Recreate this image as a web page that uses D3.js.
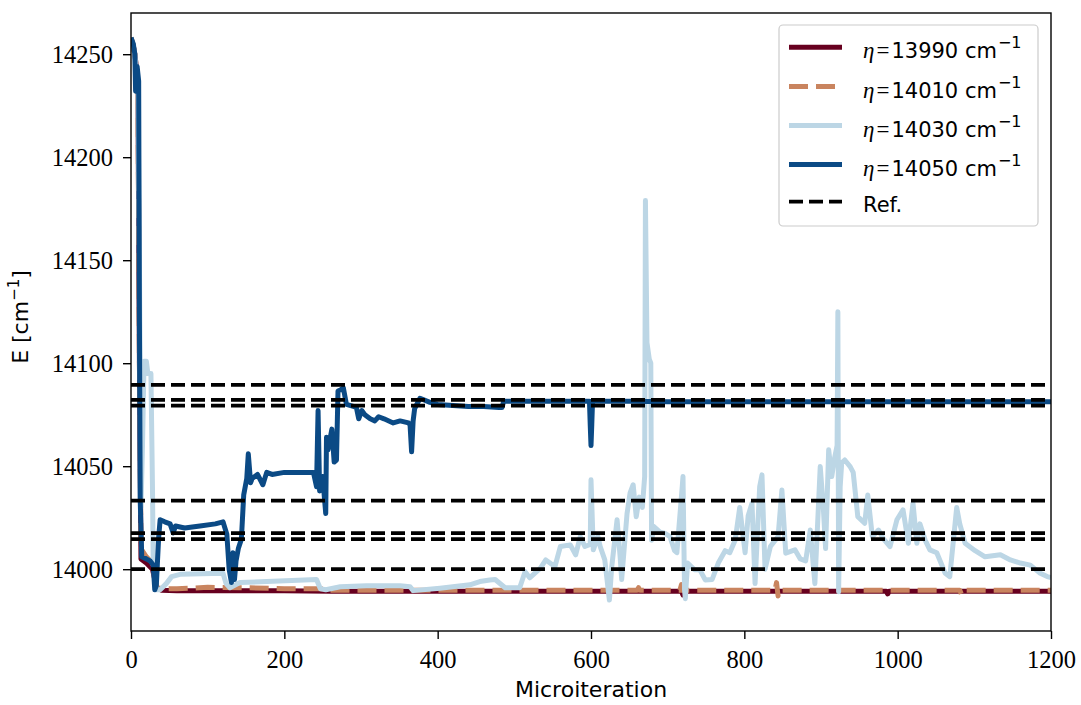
<!DOCTYPE html>
<html><head><meta charset="utf-8">
<script src="https://cdn.jsdelivr.net/npm/d3@7"></script>
<style>
body{margin:0;background:#fff;}
svg{display:block;}
.serif{font-family:"Liberation Serif","DejaVu Serif","Times New Roman",serif;}
.sans{font-family:"DejaVu Sans",sans-serif;}
</style></head>
<body>
<svg id="chart" width="1081" height="705"></svg>
<script>
// ---- data ----
const xTicks = [0, 200, 400, 600, 800, 1000, 1200];
const yTicks = [14000, 14050, 14100, 14150, 14200, 14250];
const seriesNames = ["13990", "14010", "14030", "14050"];
const seriesColors = ["#67001f", "#c9845f", "#bcd6e5", "#0b4a85"];
const refLevels = [14000, 14014.6, 14017.5, 14033.3, 14079.4, 14082.2, 14089.5];

const s13990_x = [0,3,5,7,9,11,13,20,28,31,34,40,60,100,150,200,260,300,400,500,600,700,718,720,722,800,900,985,987,989,1100,1200];
const s13990_y = [14258,14254,14250,14244,14236,14100,14005,14003,14000,13995,13991,13989.8,13989.5,13989.5,13989.5,13989.5,13989.3,13989.3,13989.3,13989.3,13989.3,13989.3,13989.3,13987.5,13989.3,13989.3,13989.3,13989.3,13988,13989.3,13989.3,13989.3];

const s14010_x = [0,3,5,7,9,11,13,20,28,31,34,40,60,100,150,200,250,258,300,400,500,600,660,662,664,700,716,718,720,800,840,842,844,846,900,1000,1081,1083,1085,1200];
const s14010_y = [14258,14254,14250,14244,14236,14100,14010,14006,14003,13995,13991,13990.5,13990.5,13991.2,13991,13990.5,13990.5,13989.8,13989.8,13989.8,13989.8,13989.8,13989.8,13991,13989.8,13989.8,13989.8,13992.5,13989.8,13989.8,13989.8,13993.5,13987,13989.8,13989.8,13989.8,13989.8,13988,13989.8,13989.8];

const s14030_x = [0,5,9,11,13,15,17,20,22,26,28,29,31,33,38,46,53,64,120,124,129,142,177,242,247,254,273,307,351,364,368,403,442,455,468,475,488,507,514,520,534,541,553,560,573,580,586,592,599,600,603,609,612,618,624,627,634,638,640,647,651,655,659,663,667,670,671,673,676,678,679,682,690,696,703,709,712,719,720,722,723,726,735,742,749,758,766,775,781,788,794,801,805,810,814,820,823,827,834,844,849,854,866,873,880,886,892,899,903,906,910,914,918,921,922,923,925,927,931,938,942,948,957,961,967,975,981,990,999,1007,1014,1020,1025,1029,1036,1042,1051,1062,1068,1077,1081,1088,1101,1114,1134,1147,1160,1173,1186,1195,1200];
const s14030_y = [14258,14250,14235,14150,14030,14060,14101,14101,14095,14095,14040,14002,14000,13990,13990,13993,13996.4,13997.5,13998,13993,13991,13993.5,13994,13995,13990.5,13990,13991.5,13992,13992,13991.5,13989.6,13990.8,13992.4,13994,13994.8,13995,13991,13991,13998.8,13995.8,14000.5,14004.5,14001.3,14011,14011.8,14007,14015.8,14011,14012,14043.4,14009.4,14015.8,14011,14004.5,13985,14001,14024,14006,13995,14027,14037,14041,14025.5,14035,14030,14045,14179,14110,14102,14100,14014,14020.7,14018,14017.5,14015.8,14009,14008,14040,14045,13990,13985.7,14003,13999.7,13999.7,13994.8,13995,14003,14009,14008,14014,14030,14008,14026,14032,13993,14040,14045.8,14000,14011,14015.8,14038.5,14007.8,14009.4,14005,14004,14019,13993,14049.8,14030,14010,14058,14045,14054.5,14060,14125,13989,14040,14051.6,14053,14049.8,14047,14025.5,14022.3,14036,14015.8,14019,14015,14011,14024,14028.8,14012.6,14032,14012.6,14022,14014,14009.4,14008,13998,13996.4,14030,14022,14012.6,14009,14006,14007,14004.5,14003,14002,13998,13996.4,13996];

const s14050_x = [0,3,5,6,8,10,11,12,14,20,25,29,31,33,36,38,44,51,55,58,70,90,110,120,125,128,131,133,135,137,140,144,147,151,153,156,158,165,172,177,184,200,220,238,242,244,246,250,254,255,257,262,265,268,270,273,277,281,290,294,297,301,305,312,318,323,330,342,351,362,364,366,368,370,377,390,400,420,440,460,480,484,486,500,550,598,599,600,601,602,650,700,800,900,1000,1100,1200];
const s14050_y = [14258,14255,14250,14232,14244,14237,14120,14034,14006,14005,14004,14002,13990,13992,14015,14024,14023,14022,14017.6,14021,14020,14021,14022,14023,14017,14000,13993.5,14008,13995,14004,14010,14014.6,14036,14044,14056,14042,14044,14046,14041,14047,14046,14047,14047,14047,14040,14077,14038,14045,14027,14064,14058,14068,14052,14053,14086.5,14087,14088,14080,14079,14078.5,14073,14077,14075,14073,14072,14074,14073,14071,14072,14071,14070,14057,14072,14078,14083,14081,14080,14079.5,14079,14079,14078.5,14078.5,14081.5,14081.5,14081.5,14081.5,14070,14060,14070,14081.5,14081.5,14081.3,14081.3,14081.3,14081.3,14081.3,14081.3];

// ---- chart ----
const svg = d3.select("#chart");
const L = 131, R = 1051, T = 13, B = 631;
const x = d3.scaleLinear().domain([0, 1200]).range([L, R]);
const y = d3.scaleLinear().domain([13970, 14270]).range([B, T]);

svg.append("defs").append("clipPath").attr("id", "clip")
  .append("rect").attr("x", L).attr("y", T).attr("width", R - L).attr("height", B - T);

const series = [
  {xs: s13990_x, ys: s13990_y},
  {xs: s14010_x, ys: s14010_y},
  {xs: s14030_x, ys: s14030_y},
  {xs: s14050_x, ys: s14050_y}
];
const dashes = [null, "19,8", null, null];

const line = d3.line().x(d => x(d[0])).y(d => y(d[1]));
const plot = svg.append("g").attr("clip-path", "url(#clip)");

series.forEach((s, i) => {
  const pts = s.xs.map((v, k) => [v, s.ys[k]]);
  plot.append("path").datum(pts)
    .attr("d", line)
    .attr("fill", "none")
    .attr("stroke", seriesColors[i])
    .attr("stroke-width", 5)
    .attr("stroke-linejoin", "round")
    .attr("stroke-dasharray", dashes[i]);
});

refLevels.forEach(v => {
  plot.append("line")
    .attr("x1", L).attr("x2", R)
    .attr("y1", y(v)).attr("y2", y(v))
    .attr("stroke", "#000").attr("stroke-width", 3.8)
    .attr("stroke-dasharray", "14,6");
});

// axes
const xAxis = svg.append("g").attr("transform", `translate(0,${B})`)
  .call(d3.axisBottom(x).tickValues(xTicks).tickSize(8).tickPadding(12).tickFormat(d3.format("d")));
const yAxis = svg.append("g").attr("transform", `translate(${L},0)`)
  .call(d3.axisLeft(y).tickValues(yTicks).tickSize(8).tickPadding(10).tickFormat(d3.format("d")));
[xAxis, yAxis].forEach(a => {
  a.attr("font-family", null).attr("font-size", null);
  a.select(".domain").remove();
  a.selectAll(".tick line").attr("stroke", "#000").attr("stroke-width", 1.4);
  a.selectAll(".tick text").attr("class", "serif").style("font-size", "24.5px").attr("fill", "#000");
});

svg.append("rect").attr("x", L).attr("y", T).attr("width", R - L).attr("height", B - T)
  .attr("fill", "none").attr("stroke", "#000").attr("stroke-width", 1.4);

// axis labels
svg.append("text").attr("class", "sans").attr("x", 591).attr("y", 697)
  .attr("text-anchor", "middle").style("font-size", "22px")
  .text("Microiteration");

const yl = svg.append("text").attr("class", "sans").attr("transform", "translate(28,317) rotate(-90)")
  .attr("text-anchor", "middle").style("font-size", "22px");
yl.append("tspan").text("E [cm");
yl.append("tspan").attr("dy", -9).style("font-size", "15px").text("\u22121");
yl.append("tspan").attr("dy", 9).text("]");

// legend
const lg = svg.append("g");
lg.append("rect").attr("x", 779).attr("y", 25).attr("width", 259).attr("height", 201)
  .attr("rx", 4).attr("fill", "#fff").attr("fill-opacity", 0.8)
  .attr("stroke", "#cccccc").attr("stroke-width", 1.2);
const rowY = [47.3, 86.5, 125.5, 164.5, 201.7];
seriesNames.forEach((n, i) => {
  lg.append("line").attr("x1", 789).attr("x2", 842).attr("y1", rowY[i]).attr("y2", rowY[i])
    .attr("stroke", seriesColors[i]).attr("stroke-width", 5)
    .attr("stroke-dasharray", dashes[i]);
  const t = lg.append("text").attr("x", 863).attr("y", rowY[i] + 11).style("font-size", "21px").attr("fill", "#000");
  t.append("tspan").attr("class", "serif").style("font-style", "italic").style("font-size", "23px").text("\u03b7");
  t.append("tspan").attr("class", "serif").attr("dx", 2).style("font-size", "23px").text("=");
  t.append("tspan").attr("class", "sans").attr("dx", 2).text(n + " cm");
  t.append("tspan").attr("class", "sans").style("font-size", "16px").attr("dx", 1).attr("dy", -10).text("\u22121");
});
lg.append("line").attr("x1", 789).attr("x2", 842).attr("y1", rowY[4]).attr("y2", rowY[4])
  .attr("stroke", "#000").attr("stroke-width", 3.8).attr("stroke-dasharray", "14,6");
lg.append("text").attr("class", "sans").attr("x", 863).attr("y", rowY[4] + 10).style("font-size", "21px")
  .text("Ref.");
</script>
</body></html>
